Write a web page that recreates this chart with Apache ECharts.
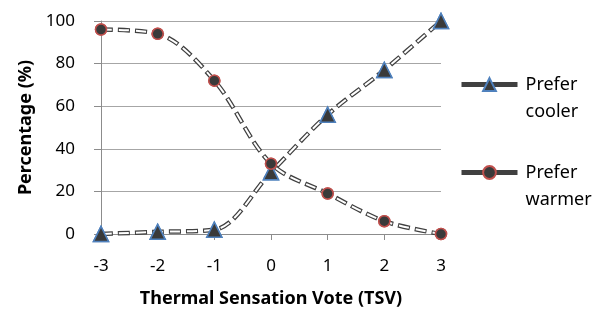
<!DOCTYPE html>
<html>
<head>
<meta charset="utf-8">
<script src="https://cdn.jsdelivr.net/npm/echarts@6/dist/echarts.min.js"></script>
<style>
  html, body { margin: 0; padding: 0; background: #fff; }
  #chart { width: 593px; height: 309px; }
</style>
</head>
<body>
<div id="chart"></div>
<script>
// 数据
const tsv = [-3, -2, -1, 0, 1, 2, 3];
const preferCooler = [0, 1, 2, 29, 56, 77, 100];
const preferWarmer = [96, 94, 72, 33, 19, 6, 0];
const yTicks = [0, 20, 40, 60, 80, 100];

const FONT = "Noto Sans";
const LINE_DARK = "#404040";
const SMOOTH = 0.33;

const pairs = (vals) => tsv.map((x, i) => [x, vals[i]]);

// 一条曲线 = 深色虚线(带图例) + 白色虚线覆盖 + 只有标记的系列
function curve(name, vals, symbol, size, border) {
  return [
    {
      type: "line",
      name,
      data: pairs(vals),
      smooth: SMOOTH,
      z: 1,
      symbol,
      symbolSize: size,
      itemStyle: { color: "#3a3a3a", borderColor: border, borderWidth: 1.5 },
      lineStyle: { color: LINE_DARK, width: 4.5, type: [12, 5], cap: "butt" },
    },
    {
      type: "line",
      name: name + "_w",
      data: pairs(vals),
      smooth: SMOOTH,
      z: 2,
      silent: true,
      symbol: "none",
      lineStyle: { color: "#fff", width: 2, type: [10, 7], dashOffset: -1, cap: "butt" },
    },
    {
      type: "line",
      name: name + "_m",
      data: pairs(vals),
      z: 3,
      symbol,
      symbolSize: size,
      itemStyle: { color: "#3a3a3a", borderColor: border, borderWidth: 1.5 },
      lineStyle: { opacity: 0 },
    },
  ];
}

const myChart = echarts.init(document.getElementById("chart"));
const option = {
  animation: false,
  textStyle: { fontFamily: FONT, color: "#000" },
  grid: { left: 101, right: 152, top: 21, bottom: 75, outerBoundsMode: "none" },
  legend: {
    data: ["Prefer cooler", "Prefer warmer"],
    orient: "vertical",
    left: 459,
    top: 44,
    padding: 0,
    itemWidth: 56,
    itemHeight: 16,
    itemGap: 7,
    // 第一行留空, 让 "Prefer" 与图标对齐
    formatter: (n) => "\n" + n.replace(" ", "\n"),
    lineStyle: { type: "solid", width: 5, color: LINE_DARK },
    textStyle: { fontFamily: FONT, fontSize: 18, color: "#000", lineHeight: 27, padding: [0, 0, 0, 3] },
  },
  xAxis: {
    type: "value",
    min: -3,
    max: 3,
    interval: 1,
    name: "Thermal Sensation Vote (TSV)",
    nameLocation: "middle",
    nameGap: 56,
    nameTextStyle: { fontFamily: FONT, fontSize: 18, fontWeight: "bold", color: "#000" },
    axisLine: { lineStyle: { color: "#8c8c8c" } },
    axisTick: { show: true, length: 6, lineStyle: { color: "#8c8c8c" } },
    axisLabel: { fontSize: 17, color: "#000", margin: 24 },
    splitLine: { show: false },
  },
  yAxis: {
    type: "value",
    min: yTicks[0],
    max: yTicks[yTicks.length - 1],
    interval: 20,
    name: "Percentage (%)",
    nameLocation: "middle",
    nameGap: 66,
    nameTextStyle: { fontFamily: FONT, fontSize: 18, fontWeight: "bold", color: "#000" },
    axisLine: { show: true, onZero: false, lineStyle: { color: "#8c8c8c" } },
    axisTick: { show: true, length: 7, lineStyle: { color: "#8c8c8c" } },
    axisLabel: { fontSize: 17, color: "#000", margin: 26 },
    splitLine: { lineStyle: { color: "#a6a6a6" } },
  },
  series: [
    ...curve("Prefer cooler", preferCooler, "triangle", 15, "#4f81bd"),
    ...curve("Prefer warmer", preferWarmer, "circle", 11, "#c0504d"),
  ],
};
myChart.setOption(option);
</script>
</body>
</html>
